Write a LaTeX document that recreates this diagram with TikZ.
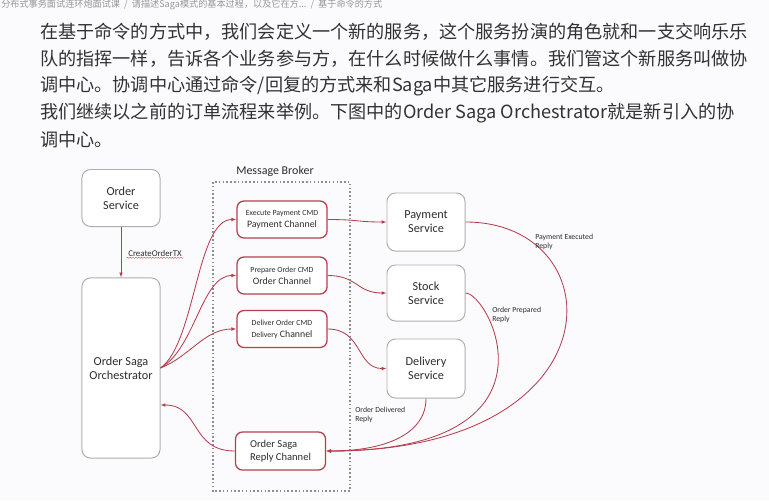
\documentclass[tikz,border=0pt]{standalone}
\usepackage{fontspec}
\setmainfont{Carlito}
\newfontfamily\cjk{Noto Sans CJK SC}
\usepackage{tikz}
\usetikzlibrary{arrows.meta, calc, decorations.pathmorphing}
\definecolor{pagebg}{RGB}{251,250,252}
\definecolor{bodytext}{RGB}{50,50,53}
\definecolor{crumbgray}{RGB}{150,150,155}
\definecolor{msgred}{RGB}{184,62,78}
\definecolor{boxgray}{RGB}{175,175,178}
\definecolor{labelgray}{RGB}{45,45,45}
\definecolor{brokergray}{RGB}{140,140,145}

\tikzset{
  svcbox/.style={draw=boxgray, line width=0.7pt, rounded corners=6pt, fill=white, align=center,
    minimum width=1.95cm, font=\fontsize{8.7}{10}\selectfont, text=labelgray},
  chanbox/.style={draw=msgred, line width=0.9pt, rounded corners=5pt, fill=white, align=center,
    minimum width=2.25cm, minimum height=0.925cm, font=\fontsize{7}{8.4}\selectfont, text=labelgray},
  msgflow/.style={->, msgred, line width=0.6pt},
  replylbl/.style={font=\fontsize{5.5}{7}\selectfont, align=left, anchor=west, text=labelgray, inner sep=0pt},
  paraline/.style={anchor=west, font=\cjk\fontsize{12.9}{15}\selectfont, text=bodytext, inner sep=0pt},
}

\begin{document}
\begin{tikzpicture}[x=0.025cm, y=-0.025cm, >={Latex[length=3.5pt,width=2.6pt]}]

\useasboundingbox[fill=pagebg] (0,0) rectangle (769,501);

\node[anchor=west, font=\cjk\fontsize{6.5}{7.5}\selectfont, text=crumbgray, inner sep=0pt] (crumb) at (1,5)
  {分布式事务面试连环炮面试课\ \ /\ \ 请描述Saga模式的基本过程，以及它在方...\ \ /\ \ 基于命令的方式};

\node[paraline] (line1) at (40,32) {在基于命令的方式中，我们会定义一个新的服务，这个服务扮演的角色就和一支交响乐乐};
\node[paraline] (line2) at (40,59) {队的指挥一样，告诉各个业务参与方，在什么时候做什么事情。我们管这个新服务叫做协};
\node[paraline] (line3) at (40,86) {调中心。协调中心通过命令/回复的方式来和Saga中其它服务进行交互。};
\node[paraline] (line4) at (40,113) {我们继续以之前的订单流程来举例。下图中的Order Saga Orchestrator就是新引入的协};
\node[paraline] (line5) at (40,140) {调中心。};

% message broker
\draw[brokergray, line width=1pt, dash pattern=on 1.1pt off 1.6pt] (213,182) rectangle (350,491);
\node[font=\fontsize{8.5}{10}\selectfont, text=labelgray] (broker) at (275,171) {Message Broker};

\node[svcbox, minimum height=1.425cm] (osvc) at (121,198) {Order\\Service};
\node[svcbox, minimum height=4.5cm] (orch) at (121,368) {Order Saga\\Orchestrator};

\node[chanbox] (paych) at (282,219.5) {{\fontsize{5.6}{6.5}\selectfont Execute Payment CMD}\\Payment Channel};
\node[chanbox] (ordch) at (282,275.5) {{\fontsize{5.6}{6.5}\selectfont Prepare Order CMD}\\Order Channel};
\node[chanbox] (delch) at (282,329) {{\fontsize{5.6}{6.5}\selectfont Deliver Order CMD}\\{\fontsize{5.6}{6.5}\selectfont Delivery} Channel};
\node[chanbox, align=left, minimum height=0.95cm, font=\fontsize{7.5}{9.2}\selectfont] (replych) at (280.5,451) {Order Saga\\Reply Channel};

\node[svcbox, minimum height=1.45cm] (paysvc) at (426,222) {Payment\\Service};
\node[svcbox, minimum height=1.4cm] (stksvc) at (426,293) {Stock\\Service};
\node[svcbox, minimum height=1.475cm] (delsvc) at (426,368.5) {Delivery\\Service};

\draw[msgflow] (osvc.south) -- (orch.north);
\node[font=\fontsize{6.3}{7.5}\selectfont, text=labelgray, inner sep=1pt] (ctx) at (155,253) {CreateOrderTX};
\draw[msgred!80, line width=0.35pt, decorate, decoration={snake, amplitude=0.35pt, segment length=2pt}]
  (ctx.south west) -- (ctx.south east);

% commands
\draw[msgflow] (orch.east) .. controls +(35,-25) and +(-40,0) .. (paych.west);
\draw[msgflow] (orch.east) .. controls +(35,-20) and +(-35,0) .. (ordch.west);
\draw[msgflow] (orch.east) .. controls +(30,-12) and +(-32,0) .. (delch.west);

\draw[msgflow] (paych.east) .. controls +(30,0) and +(-30,0) .. (paysvc.west);
\draw[msgflow] (ordch.east) .. controls +(30,0) and +(-30,0) .. (stksvc.west);
\draw[msgflow] (delch.east) .. controls +(35,0) and +(-30,0) .. (delsvc.west);

% replies
\draw[msgflow] (paysvc.east) .. controls +(150,0) and +(295,0) .. (replych.east);
\draw[msgflow] (stksvc.east) .. controls +(24,0) and +(245,0) .. (replych.east);
\draw[msgflow] (delsvc.south) .. controls +(0,35) and +(60,0) .. (replych.east);

\coordinate (orchin) at ($(orch.east)+(0,37)$);
\draw[msgflow] (replych.west) .. controls +(-45,0) and +(40,0) .. (orchin);

\node[replylbl] (payrep) at (535,242) {Payment Executed\\Reply};
\node[replylbl] (ordrep) at (492,315) {Order Prepared\\Reply};
\node[replylbl] (delrep) at (355,415) {Order Delivered\\Reply};

\end{tikzpicture}
\end{document}
